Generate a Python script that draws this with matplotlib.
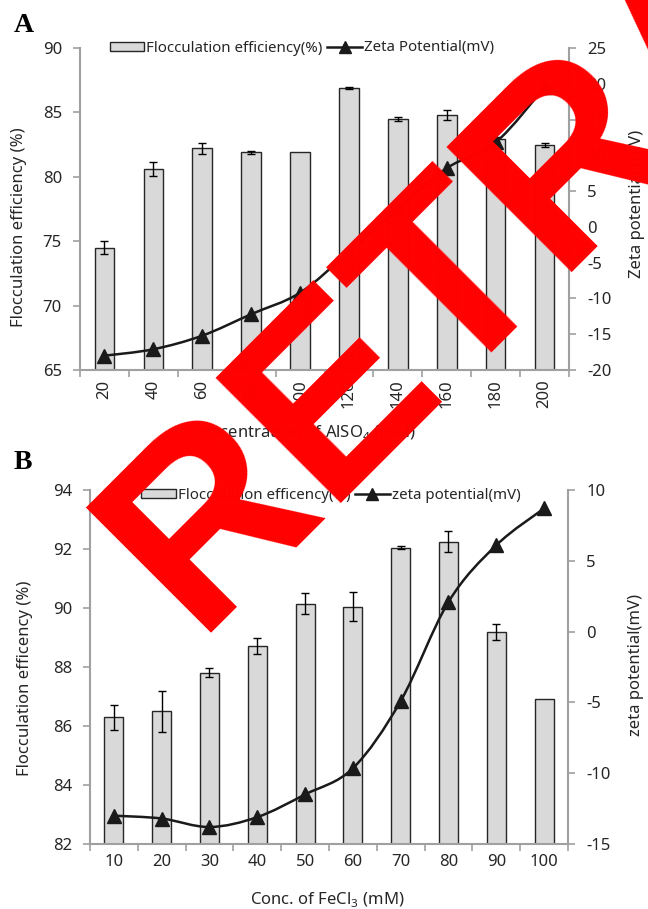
import numpy as np
import matplotlib
matplotlib.use('Agg')
import matplotlib.pyplot as plt
from matplotlib.path import Path
from matplotlib.patches import PathPatch, Patch
from matplotlib.lines import Line2D

plt.rcParams['font.family'] = ['Noto Sans', 'DejaVu Sans']
plt.rcParams['mathtext.fontset'] = 'custom'
plt.rcParams['mathtext.rm'] = 'Noto Sans'
plt.rcParams['axes.unicode_minus'] = False

# panel A: AlSO4 dose
conc_A = ['20', '40', '60', '80', '100', '120', '140', '160', '180', '200']
floc_A = [74.5, 80.6, 82.2, 81.9, 81.9, 86.9, 84.5, 84.8, 82.9, 82.5]
floc_A_err = [0.5, 0.55, 0.4, 0.1, 0.0, 0.1, 0.13, 0.4, 0.2, 0.15]
zeta_A = [-18.0, -17.1, -15.2, -12.2, -9.2, -3.5, 2.5, 8.2, 11.8, 19.5]

# panel B: FeCl3 dose
conc_B = ['10', '20', '30', '40', '50', '60', '70', '80', '90', '100']
floc_B = [86.3, 86.5, 87.8, 88.7, 90.15, 90.05, 92.05, 92.25, 89.2, 86.9]
floc_B_err = [0.42, 0.7, 0.15, 0.27, 0.35, 0.5, 0.05, 0.36, 0.27, 0.0]
zeta_B = [-13.0, -13.2, -13.8, -13.1, -11.5, -9.65, -4.9, 2.1, 6.1, 8.7]

AXCOL = '#a0a0a0'
TXT = '#262626'
BARC = '#d9d9d9'
FS = 12
LFS = 10.8


def smooth_path(x, y):
    # Bezier curve through the points, like a spreadsheet "smoothed line"
    x = np.asarray(x, float)
    y = np.asarray(y, float)
    n = len(x)
    verts = [(x[0], y[0])]
    codes = [Path.MOVETO]
    for i in range(n - 1):
        p0 = np.array([x[max(i - 1, 0)], y[max(i - 1, 0)]])
        p1 = np.array([x[i], y[i]])
        p2 = np.array([x[i + 1], y[i + 1]])
        p3 = np.array([x[min(i + 2, n - 1)], y[min(i + 2, n - 1)]])
        c1 = p1 + (p2 - p0) / 6.0
        c2 = p2 - (p3 - p1) / 6.0
        verts += [tuple(c1), tuple(c2), tuple(p2)]
        codes += [Path.CURVE4] * 3
    return Path(verts, codes)


def panel(fig, rect, cats, floc, err, zeta, ylim1, yt1, ylim2, yt2, rot):
    ax = fig.add_axes(rect)
    x = np.arange(len(cats))
    ax.bar(x, floc, width=0.4, color=BARC, edgecolor=TXT, linewidth=1.0,
           bottom=0, zorder=2)
    e = np.array(err)
    m = e > 0
    ax.errorbar(x[m], np.array(floc)[m], yerr=e[m], fmt='none', ecolor='black',
                elinewidth=1.0, capsize=3, capthick=1.0, zorder=3)
    ax.set_xlim(-0.5, len(cats) - 0.5)
    ax.set_ylim(*ylim1)
    ax.set_yticks(yt1)
    ax.set_xticks(x)
    ax.set_xticklabels(cats, rotation=rot)
    ax.set_xticks(np.arange(-0.5, len(cats)), minor=True)
    ax.tick_params(axis='x', which='major', length=0, pad=7, labelsize=FS, labelcolor=TXT)
    ax.tick_params(axis='x', which='minor', length=5, color=AXCOL, width=1.2, direction='out')
    ax.tick_params(axis='y', length=5, color=AXCOL, width=1.2, labelsize=FS,
                   labelcolor=TXT, pad=8)
    for s in ['top', 'right']:
        ax.spines[s].set_visible(False)
    for s in ['left', 'bottom']:
        ax.spines[s].set_color(AXCOL)
        ax.spines[s].set_linewidth(1.5)

    ax2 = ax.twinx()
    ax2.set_ylim(*ylim2)
    ax2.set_yticks(yt2)
    ax2.tick_params(axis='y', length=5, color=AXCOL, width=1.2, labelsize=FS,
                    labelcolor=TXT, pad=8)
    for s in ['top', 'left', 'bottom']:
        ax2.spines[s].set_visible(False)
    ax2.spines['right'].set_color(AXCOL)
    ax2.spines['right'].set_linewidth(1.5)
    ax2.add_patch(PathPatch(smooth_path(x, zeta), facecolor='none',
                            edgecolor='#1a1a1a', linewidth=1.8, zorder=3))
    ax2.plot(x, zeta, linestyle='none', marker='^', markersize=10,
             color='#1a1a1a', zorder=4)
    return ax, ax2


fig = plt.figure(figsize=(6.48, 9.09), dpi=100)
W, H = 648.0, 909.0

# ---- A ----
axA, axA2 = panel(fig, [80 / W, 1 - 370 / H, 489 / W, 322 / H], conc_A, floc_A,
                  floc_A_err, zeta_A, (65, 90), range(65, 91, 5),
                  (-20, 25), range(-20, 26, 5), 90)
axA.set_ylabel('Flocculation efficiency (%)', fontsize=FS, color=TXT)
axA.yaxis.set_label_coords(-0.125, 0.442)
axA.yaxis.label.set_va('center')
axA2.set_ylabel('Zeta potential (mV)', fontsize=FS, color=TXT)
axA2.yaxis.set_label_coords(1.139, 0.516)
axA2.yaxis.label.set_va('center')
axA.set_xlabel('Concentration of AlSO$_4$ (mM)', fontsize=FS, color=TXT)
axA.xaxis.set_label_coords(0.454, -0.193)
axA.xaxis.label.set_va('center')
hA = [Patch(facecolor=BARC, edgecolor=TXT, linewidth=1.0),
      Line2D([], [], color='#1a1a1a', lw=1.8, marker='^', markersize=9)]
fig.legend(hA, ['Flocculation efficiency(%)', 'Zeta Potential(mV)'],
           loc='center', bbox_to_anchor=(302 / W, 1 - 48 / H), ncol=2,
           frameon=False, fontsize=LFS, handlelength=2.3, handleheight=0.55,
           handletextpad=0.15, columnspacing=0.3, labelcolor=TXT)

# ---- B ----
axB, axB2 = panel(fig, [90 / W, 1 - 844 / H, 478 / W, 354 / H], conc_B, floc_B,
                  floc_B_err, zeta_B, (82, 94), range(82, 95, 2),
                  (-15, 10), range(-15, 11, 5), 0)
axB.set_ylabel('Flocculation efficency (%)', fontsize=FS, color=TXT)
axB.yaxis.set_label_coords(-0.136, 0.469)
axB.yaxis.label.set_va('center')
axB2.set_ylabel('zeta potential(mV)', fontsize=FS, color=TXT)
axB2.yaxis.set_label_coords(1.142, 0.506)
axB2.yaxis.label.set_va('center')
axB.set_xlabel('Conc. of FeCl$_3$ (mM)', fontsize=FS, color=TXT)
axB.xaxis.set_label_coords(0.496, -0.158)
axB.xaxis.label.set_va('center')
hB = [Patch(facecolor=BARC, edgecolor=TXT, linewidth=1.0),
      Line2D([], [], color='#1a1a1a', lw=1.8, marker='^', markersize=9)]
fig.legend(hB, ['Flocculation efficency(%)', 'zeta potential(mV)'],
           loc='center', bbox_to_anchor=(331 / W, 1 - 495 / H), ncol=2,
           frameon=False, fontsize=LFS, handlelength=2.3, handleheight=0.55,
           handletextpad=0.15, columnspacing=0.3, labelcolor=TXT)

# panel letters
fig.text(14 / W, 1 - 26 / H, 'A', fontsize=20, fontweight='bold',
         family='Liberation Serif', va='center', ha='left')
fig.text(14 / W, 1 - 462 / H, 'B', fontsize=20, fontweight='bold',
         family='Liberation Serif', va='center', ha='left')

# retraction stamp across the figure
fig.text(194.0 / W, 1 - 633.0 / H, 'RETRACTED', fontsize=184, fontweight='bold',
         family='Liberation Sans', color='#ff0000', rotation=45,
         rotation_mode='anchor', ha='left', va='baseline', zorder=20)

fig.savefig('out.png', dpi=100)
